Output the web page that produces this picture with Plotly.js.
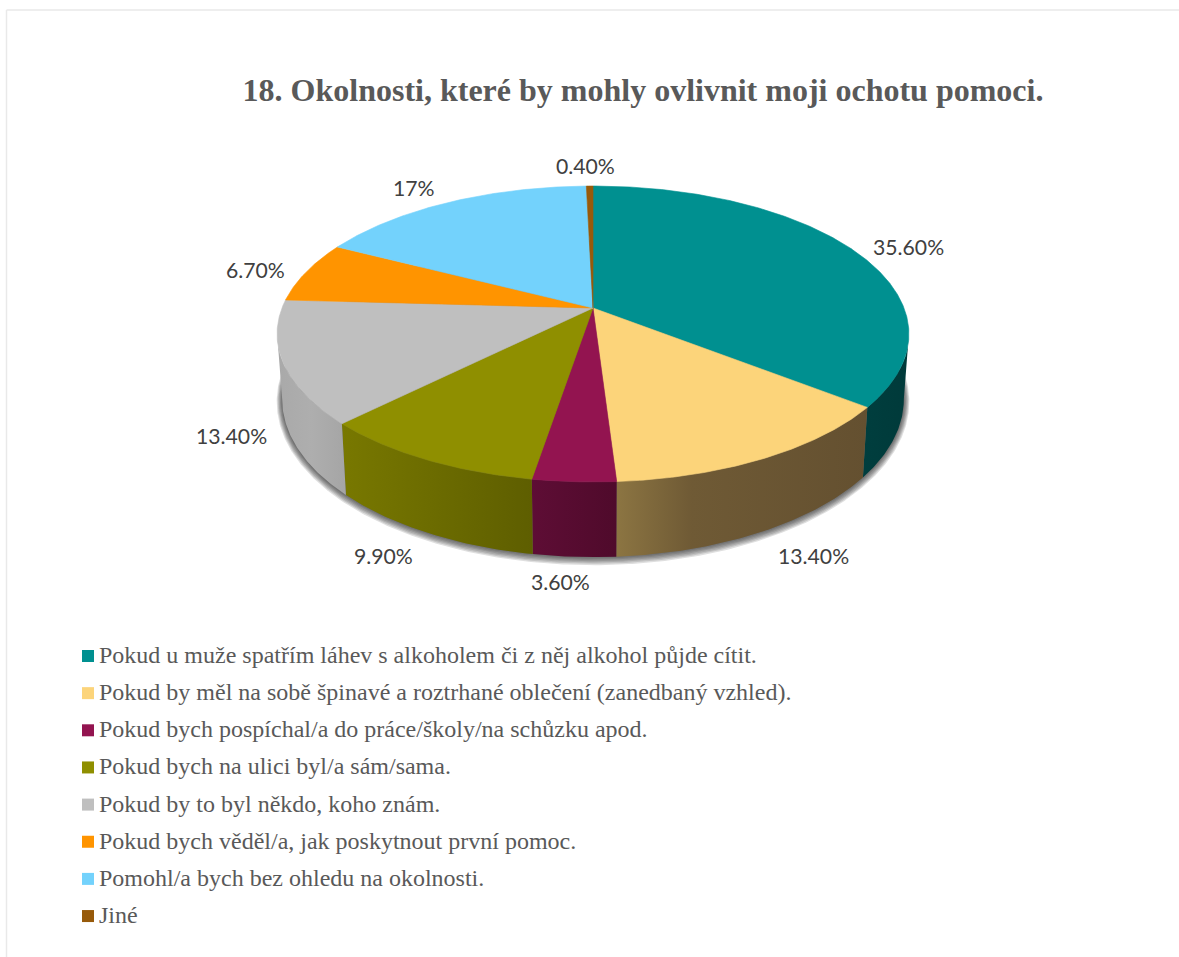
<!DOCTYPE html>
<html lang="cs">
<head>
<meta charset="utf-8">
<script src="https://cdn.plot.ly/plotly-3.0.1.min.js"></script>
<style>html,body{margin:0;padding:0;background:#fff}#chart{width:1179px;height:957px}</style>
</head>
<body>
<div id="chart"></div>
<script>
// Survey question and its answers
const chartTitle = '18. Okolnosti, které by mohly ovlivnit moji ochotu pomoci.';
const categories = [
  'Pokud u muže spatřím láhev s alkoholem či z něj alkohol půjde cítit.',
  'Pokud by měl na sobě špinavé a roztrhané oblečení (zanedbaný vzhled).',
  'Pokud bych pospíchal/a do práce/školy/na schůzku apod.',
  'Pokud bych na ulici byl/a sám/sama.',
  'Pokud by to byl někdo, koho znám.',
  'Pokud bych věděl/a, jak poskytnout první pomoc.',
  'Pomohl/a bych bez ohledu na okolnosti.',
  'Jiné'
];
const values = [35.6, 13.4, 3.6, 9.9, 13.4, 6.7, 17, 0.4];
const valueLabels = ['35.60%', '13.40%', '3.60%', '9.90%', '13.40%', '6.70%', '17%', '0.40%'];

// Slice colours and the horizontal shading of each outer wall (left to right)
const topColors = ['#009090', '#fcd47a', '#931450', '#8f8f00', '#bfbfbf', '#ff9400', '#73d2fc', '#975a0a'];
const wallShades = [
  [[0, '#003e3e'], [1, '#003a3a']],
  [[0, '#8c7542'], [0.3, '#6f5a35'], [1, '#645030']],
  [[0, '#5e0d35'], [1, '#4f0a2b']],
  [[0, '#787800'], [1, '#5e5e00']],
  [[0, '#a9a9a9'], [0.5, '#aeaeae'], [1, '#a5a5a5']],
  null, null, null
];

// Where each value label sits in the page's pixel frame
const labelX = [908, 813, 560, 383, 231, 255, 414, 585];
const labelY = [247, 556, 582, 556, 436, 270, 188, 166];

// Perspective used for the pie: the disc tilts away, so its far half looks shorter
const tilt = 0.1757;
const apexX = 593;
const topRim = {cy: 308, rx: 311, ry: 143.4};
const bottomRim = {cy: 371.5, rx: 306, ry: 153};

function rimPoint(rim, deg, grow) {
  const t = deg * Math.PI / 180;
  const u = Math.sin(t), v = Math.cos(t);
  const d = 1 + tilt * v;
  return [apexX + (rim.rx + (grow || 0)) * u / d, rim.cy - (rim.ry + (grow || 0)) * v / d];
}
function arc(rim, from, to, grow) {
  const n = Math.max(2, Math.ceil(Math.abs(to - from) * 2));
  const pts = [];
  for (let i = 0; i <= n; i++) pts.push(rimPoint(rim, from + (to - from) * i / n, grow));
  return pts;
}
function polygon(pts) {
  return {x: pts.map(p => p[0]).concat(pts[0][0]), y: pts.map(p => p[1]).concat(pts[0][1])};
}

const total = values.reduce((a, b) => a + b, 0);
const edges = [0];
values.forEach(v => edges.push(edges[edges.length - 1] + v / total * 360));

const traces = [];

// Soft drop shadow under the pie, built from stacked translucent discs
for (let k = 6; k >= 0; k--) {
  const grow = k * 0.9;
  const shifted = {cy: bottomRim.cy + 0.25 * k, rx: bottomRim.rx, ry: bottomRim.ry};
  const p = polygon(arc(shifted, 0, 360, grow));
  traces.push({type: 'scatter', mode: 'lines', x: p.x, y: p.y, fill: 'toself',
    fillcolor: 'rgba(30,30,30,0.14)', line: {width: 0}, hoverinfo: 'skip', showlegend: false});
}

// Outer walls: only the part of the rim facing the viewer
const wallFrom = 100, wallTo = 260;
values.forEach((v, i) => {
  const a = Math.max(edges[i], wallFrom), b = Math.min(edges[i + 1], wallTo);
  if (a >= b || !wallShades[i]) return;
  const p = polygon(arc(topRim, a, b).concat(arc(bottomRim, b, a)));
  traces.push({type: 'scatter', mode: 'lines', x: p.x, y: p.y, fill: 'toself',
    fillgradient: {type: 'horizontal', colorscale: wallShades[i]},
    line: {width: 0}, hoverinfo: 'skip', showlegend: false, name: categories[i]});
});

// Top face of every slice
values.forEach((v, i) => {
  const p = polygon([[apexX, topRim.cy]].concat(arc(topRim, edges[i], edges[i + 1])));
  traces.push({type: 'scatter', mode: 'lines', x: p.x, y: p.y, fill: 'toself',
    fillcolor: topColors[i], line: {width: 0.6, color: topColors[i]},
    hoverinfo: 'skip', showlegend: false, name: categories[i]});
});

// Legend swatches
const legendX = 88, legendTextX = 99, legendTop = 656, legendStep = 37.15;
const legendY = categories.map((c, i) => legendTop + i * legendStep);
traces.push({type: 'scatter', mode: 'markers', x: categories.map(() => legendX), y: legendY,
  marker: {symbol: 'square', size: 12, color: topColors, line: {width: 0}},
  hoverinfo: 'skip', showlegend: false});

const annotations = [];
valueLabels.forEach((t, i) => annotations.push({
  xref: 'x', yref: 'y', x: labelX[i], y: labelY[i], text: t, showarrow: false,
  xanchor: 'center', yanchor: 'middle',
  font: {family: 'Lato, "Open Sans", sans-serif', size: 21.2, color: '#404040'}
}));
categories.forEach((t, i) => annotations.push({
  xref: 'x', yref: 'y', x: legendTextX, y: legendY[i], text: t, showarrow: false,
  xanchor: 'left', yanchor: 'middle', xshift: -2, yshift: 1,
  font: {family: '"Liberation Serif", serif', size: 24, color: '#595959'}
}));

const layout = {
  width: 1179, height: 957, margin: {l: 0, r: 0, t: 0, b: 0},
  paper_bgcolor: '#ffffff', plot_bgcolor: '#ffffff', showlegend: false,
  title: {text: chartTitle, x: 643 / 1179, xanchor: 'center', y: 1 - 90 / 957, yanchor: 'middle',
    font: {family: '"Liberation Serif", serif', size: 32, color: '#595959', weight: 'bold'}},
  xaxis: {range: [0, 1179], visible: false, fixedrange: true},
  yaxis: {range: [957, 0], visible: false, fixedrange: true},
  annotations,
  // Thin frame along the top and left of the page
  shapes: [
    {type: 'line', xref: 'x', yref: 'y', x0: 6.5, x1: 1179, y0: 10, y1: 10, line: {color: '#e9e9e9', width: 1.5}},
    {type: 'line', xref: 'x', yref: 'y', x0: 6.5, x1: 6.5, y0: 10, y1: 957, line: {color: '#e9e9e9', width: 1.5}}
  ]
};

Plotly.newPlot('chart', traces, layout, {staticPlot: true, displayModeBar: false});
</script>
</body>
</html>
